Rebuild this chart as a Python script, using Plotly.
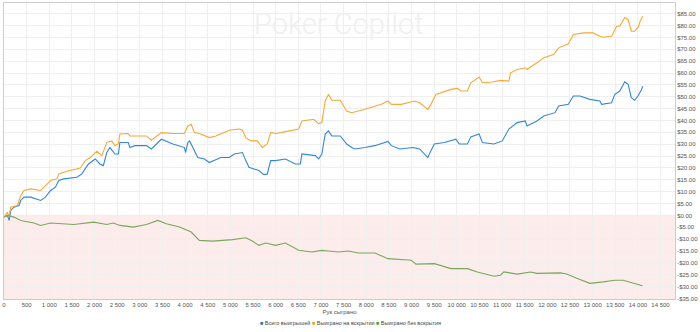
import plotly.graph_objects as go

# Hands played (x) and cumulative winnings ($)
blue_hands = [0, 77, 112, 150, 220, 330, 370, 440, 590, 810, 915, 1030, 1135, 1210, 1320, 1610, 1720, 1795, 1865, 2015, 2120, 2195, 2270, 2340, 2450, 2525, 2560, 2745, 2780, 2890, 3145, 3255, 3475, 3730, 3985, 4010, 4060, 4100, 4170, 4280, 4425, 4535, 4790, 4975, 5085, 5265, 5340, 5410, 5520, 5630, 5740, 5815, 5890, 5995, 6215, 6435, 6545, 6580, 6875, 6950, 7020, 7095, 7165, 7240, 7425, 7570, 7680, 7750, 7970, 8190, 8480, 8555, 8740, 9030, 9180, 9360, 9430, 9505, 9725, 9870, 9980, 10055, 10235, 10310, 10495, 10565, 10820, 11005, 11150, 11335, 11515, 11550, 11770, 11920, 12170, 12250, 12465, 12575, 12720, 12940, 13160, 13200, 13420, 13490, 13600, 13710, 13785, 13855, 13930, 14000, 14075, 14110]
blue_vals = [-0.7, 0.0, -2.1, 2.1, 3.5, 4.2, 6.3, 7.7, 7.7, 6.3, 7.7, 10.5, 11.9, 14.7, 15.4, 16.1, 17.5, 19.6, 21.7, 23.8, 21.7, 21.0, 26.5, 28.6, 25.9, 25.9, 30.7, 30.7, 28.6, 29.4, 29.4, 28.0, 32.1, 30.1, 28.6, 26.5, 30.7, 31.4, 28.6, 24.4, 23.8, 22.3, 24.4, 24.4, 25.9, 26.5, 23.1, 20.3, 19.6, 18.9, 17.2, 17.5, 23.1, 23.1, 23.8, 21.7, 21.7, 25.9, 25.2, 23.8, 25.9, 34.3, 35.6, 33.5, 33.5, 30.1, 28.6, 28.0, 28.6, 29.4, 31.2, 29.4, 28.0, 28.6, 28.0, 24.4, 27.3, 30.1, 30.7, 31.4, 32.1, 30.1, 30.1, 33.1, 34.3, 30.7, 30.1, 31.4, 36.4, 39.1, 39.8, 37.7, 39.8, 41.9, 43.3, 46.1, 46.8, 50.3, 50.3, 48.9, 48.2, 46.8, 47.5, 51.0, 52.4, 56.3, 55.2, 49.6, 48.5, 50.3, 52.7, 54.5]

orange_hands = [0, 77, 112, 150, 295, 370, 440, 590, 810, 1030, 1170, 1210, 1390, 1685, 1795, 1905, 2050, 2160, 2270, 2380, 2450, 2525, 2560, 2745, 2780, 3145, 3255, 3475, 3730, 3985, 4060, 4135, 4205, 4315, 4535, 4680, 4975, 5195, 5265, 5340, 5450, 5595, 5705, 5815, 5890, 6035, 6215, 6510, 6580, 6840, 6950, 7020, 7095, 7165, 7240, 7425, 7570, 7680, 7970, 8335, 8480, 8555, 8775, 9065, 9180, 9360, 9430, 9540, 9870, 10015, 10090, 10235, 10310, 10495, 10565, 10785, 10965, 11150, 11190, 11335, 11515, 11550, 11770, 11920, 12140, 12250, 12465, 12575, 12795, 13015, 13160, 13235, 13420, 13530, 13600, 13710, 13785, 13855, 13930, 14000, 14050, 14110]
orange_vals = [-0.7, 1.4, -0.7, 3.5, 4.2, 8.4, 10.5, 11.2, 10.5, 14.7, 15.4, 17.5, 18.6, 20.0, 23.1, 24.4, 27.0, 25.2, 30.7, 31.4, 29.4, 30.1, 34.3, 34.5, 33.5, 33.5, 31.7, 34.9, 34.5, 34.5, 37.7, 38.4, 34.9, 34.5, 32.8, 33.5, 35.9, 36.4, 35.9, 32.8, 31.4, 31.4, 28.6, 30.1, 34.9, 34.5, 35.3, 36.4, 39.8, 40.5, 38.7, 39.1, 48.2, 51.0, 48.5, 48.5, 44.0, 43.3, 44.7, 46.8, 48.2, 46.8, 46.8, 48.2, 47.5, 44.7, 46.8, 51.0, 53.1, 53.5, 52.4, 52.4, 55.9, 58.3, 55.9, 56.2, 56.9, 56.6, 60.1, 61.5, 62.2, 61.5, 64.3, 66.4, 67.8, 70.6, 72.3, 76.2, 76.9, 76.9, 75.5, 75.1, 75.5, 79.7, 79.7, 83.4, 82.5, 77.6, 77.6, 79.0, 81.8, 83.9]

green_hands = [0, 77, 220, 370, 660, 810, 1030, 1245, 1540, 1980, 2270, 2415, 2560, 2855, 3145, 3400, 3585, 3875, 4135, 4315, 4610, 5045, 5340, 5485, 5630, 5780, 5995, 6215, 6510, 6800, 7020, 7165, 7385, 7605, 7825, 8190, 8480, 8995, 9100, 9505, 9870, 10235, 10455, 10820, 10965, 11040, 11335, 11630, 11770, 12285, 12430, 12650, 12940, 13235, 13490, 13675, 13895, 14100]
green_vals = [-0.7, 0.0, -0.7, -2.1, -3.2, -4.2, -3.2, -3.5, -3.8, -2.8, -3.8, -3.2, -4.2, -4.9, -3.8, -2.1, -3.5, -4.9, -7.0, -10.5, -10.8, -10.2, -9.4, -10.8, -12.6, -11.6, -12.6, -11.6, -14.7, -15.4, -14.7, -15.0, -15.4, -15.0, -15.8, -15.8, -18.2, -18.9, -20.5, -20.3, -22.4, -22.4, -23.8, -25.6, -25.2, -23.8, -24.7, -23.8, -24.4, -24.2, -24.7, -26.5, -28.6, -28.0, -27.3, -27.3, -28.6, -29.6]

series_names = ["Всего выигрышей", "Выиграно на вскрытии", "Выиграно без вскрытия"]
line_colors = ["#3387d6", "#f8a838", "#7ba75c"]
legend_colors = ["#1f6fc6", "#f5a020", "#5f9a3c"]

x_ticks = list(range(0, 15000, 500))
x_ticktext = ["{:,}".format(v).replace(",", "\u00a0") for v in x_ticks]
y_ticks = list(range(-35, 90, 5))
y_ticktext = [("-$" if v < 0 else "$") + "{:.2f}".format(abs(v)) for v in y_ticks]

W, H = 700, 332
ML, MR, MT, MB = 3, 21, 2, 33
PW, PH = W - ML - MR, H - MT - MB

def px_x(p):
    return (p - ML) / PW

def px_y(p):
    return (H - MB - p) / PH

fig = go.Figure()

for hx, hv, name, col in [(blue_hands, blue_vals, series_names[0], line_colors[0]),
                          (orange_hands, orange_vals, series_names[1], line_colors[1]),
                          (green_hands, green_vals, series_names[2], line_colors[2])]:
    fig.add_trace(go.Scatter(x=hx, y=hv, mode="lines", name=name, showlegend=False,
                             line=dict(color=col, width=1.1)))

# legend drawn as text with coloured squares
legend_x = [259, 311, 376]
for name, col, lx in zip(series_names, legend_colors, legend_x):
    fig.add_annotation(text="<span style='color:%s'>■</span> %s" % (col, name),
                       xref="paper", yref="paper", x=px_x(lx), y=px_y(323),
                       xanchor="left", yanchor="middle", showarrow=False,
                       font=dict(size=5.5, color="#444444"))

# negative zone
fig.add_shape(type="rect", xref="paper", x0=0, x1=1, yref="y", y0=-35.2, y1=0,
              fillcolor="#fdecec", line=dict(width=0), layer="below")
fig.add_shape(type="line", xref="paper", x0=0, x1=1, yref="y", y0=0, y1=0,
              line=dict(color="#e5b3b3", width=1), layer="below")

fig.add_annotation(text="Poker Copilot", xref="paper", yref="paper", x=px_x(340), y=px_y(4),
                   xanchor="center", yanchor="top",
                   showarrow=False, font=dict(family="Roboto", size=29, weight=300,
                                              color="#efefef"))

fig.update_layout(
    width=W, height=H,
    margin=dict(l=ML, r=MR, t=MT, b=MB),
    paper_bgcolor="white", plot_bgcolor="white",
    showlegend=False,
    font=dict(family="Liberation Sans, Arial", size=6, color="#555555"),
    xaxis=dict(range=[0, 14820], tickvals=x_ticks, ticktext=x_ticktext, showgrid=True,
               gridcolor="#efefef", gridwidth=1, zeroline=False, showline=True,
               linecolor="#cccccc", mirror=True, ticks="", tickfont=dict(size=6),
               title=dict(text="Рук сыграно", font=dict(size=6), standoff=2)),
    yaxis=dict(range=[-35.2, 89.5], side="right", tickvals=y_ticks, ticktext=y_ticktext,
               showgrid=True, gridcolor="#efefef", gridwidth=1, zeroline=False,
               showline=True, linecolor="#cccccc", mirror=True, ticks="",
               tickfont=dict(size=6)),
)

fig.write_html("out.html")
